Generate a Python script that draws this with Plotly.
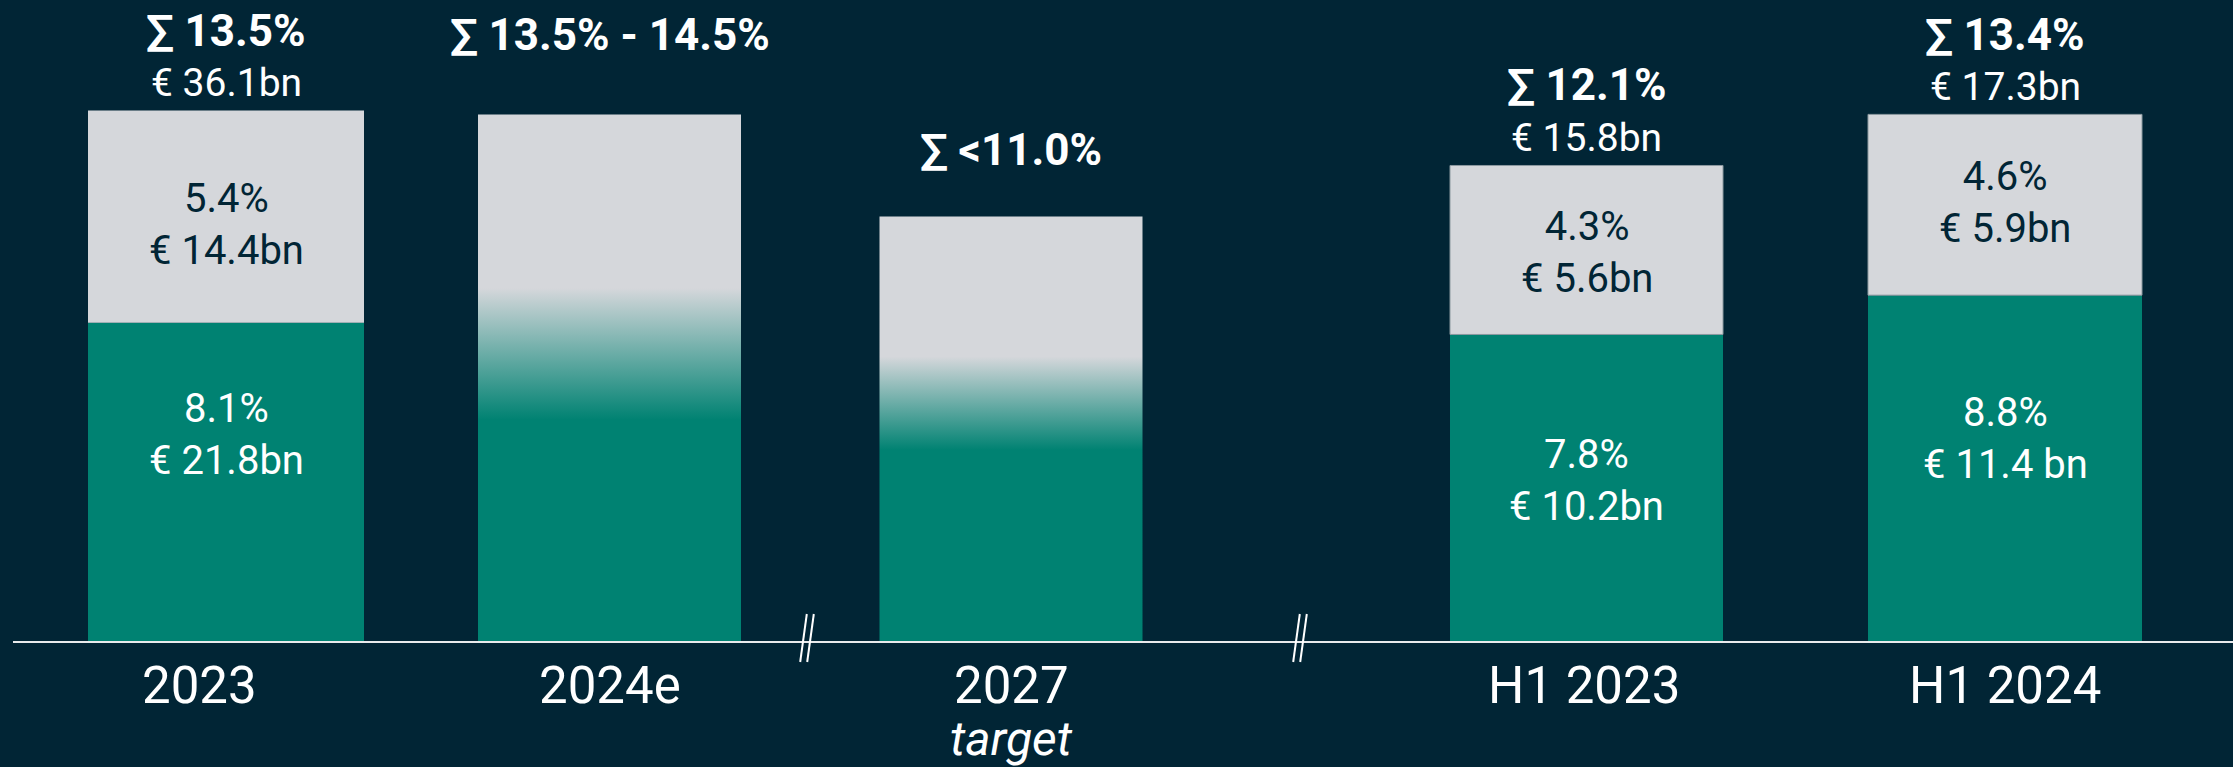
import plotly.graph_objects as go

# ---------------- data ----------------
categories = ["2023", "2024e", "2027", "H1 2023", "H1 2024"]
sublabels = ["", "", "target", "", ""]
core_pct = [8.1, None, None, 7.8, 8.8]
core_eur = ["€ 21.8bn", None, None, "€ 10.2bn", "€ 11.4 bn"]
other_pct = [5.4, None, None, 4.3, 4.6]
other_eur = ["€ 14.4bn", None, None, "€ 5.6bn", "€ 5.9bn"]
estimate_height = [None, 13.4, 10.8, None, None]
total_label = ["13.5%", "13.5% - 14.5%", "<11.0%", "12.1%", "13.4%"]
total_eur = ["€ 36.1bn", None, None, "€ 15.8bn", "€ 17.3bn"]

# ---------------- layout / style ----------------
W, H = 2233, 767
BG = "#012535"
GREEN = "#008272"
GREY = "#D5D7DB"
DARK = "#012535"
WHITE = "#FFFFFF"
FONT = "Roboto"

x_pos = [226, 609.5, 1011, 1586.5, 2005]
bar_w = [276, 263, 263, 273, 274]
label_xshift = [-27, 0, 0, -3, 0]
sum_gap = [62, 62, 50, 63, 62]          # px from bar top to sum baseline
grey_shift = [-8, 0, 0, -3, 2]
green_shift = [47, 0, 0, 7, 30]
break_x = [807, 1300]
grad_stops = [(0.42, 0.67), (0.45, 0.67)]

margin_l, margin_b = 13, 126
px_per_unit = 39.3
plot_h = H - margin_b
y_max = plot_h / px_per_unit

fig = go.Figure()

# actual stacked bars
idx = [i for i in range(len(categories)) if core_pct[i] is not None]
fig.add_trace(go.Bar(
    x=[x_pos[i] for i in idx], y=[core_pct[i] for i in idx],
    width=[bar_w[i] for i in idx],
    marker=dict(color=GREEN, line=dict(width=0)),
    name="core", showlegend=False, hoverinfo="skip"))
fig.add_trace(go.Bar(
    x=[x_pos[i] for i in idx], y=[other_pct[i] for i in idx],
    base=[core_pct[i] for i in idx],
    width=[bar_w[i] for i in idx],
    marker=dict(color=GREY, line=dict(width=[0, 1, 1], color="#8C9AA0")),
    name="other", showlegend=False, hoverinfo="skip"))

# estimate bars with vertical gradient
k = 0
for i in range(len(categories)):
    h = estimate_height[i]
    if h is None:
        continue
    a, b = grad_stops[k]
    k += 1
    x0, x1 = x_pos[i] - bar_w[i] / 2, x_pos[i] + bar_w[i] / 2
    fig.add_trace(go.Scatter(
        x=[x0, x1, x1, x0, x0], y=[0, 0, h, h, 0],
        mode="lines", line=dict(width=0), fill="toself",
        fillgradient=dict(type="vertical", start=0, stop=h,
                          colorscale=[[0, GREEN], [a, GREEN], [b, GREY], [1, GREY]]),
        showlegend=False, hoverinfo="skip"))

ann = []
for i in range(len(categories)):
    if core_pct[i] is not None:
        top = core_pct[i] + other_pct[i]
    else:
        top = estimate_height[i]
    # sum label
    ann.append(dict(x=x_pos[i], y=top, xref="x", yref="y", yanchor="bottom",
                    text="<b>∑ " + total_label[i] + "</b>", showarrow=False,
                    yshift=sum_gap[i] - 11,
                    font=dict(family=FONT, size=44, color=WHITE)))
    if total_eur[i]:
        ann.append(dict(x=x_pos[i], y=top, xref="x", yref="y", yanchor="bottom",
                        text=total_eur[i], showarrow=False, yshift=2,
                        font=dict(family=FONT, size=39, color=WHITE)))
    if core_pct[i] is not None:
        ann.append(dict(x=x_pos[i], y=core_pct[i] + other_pct[i] / 2, xref="x", yref="y",
                        yanchor="middle", showarrow=False, yshift=grey_shift[i],
                        text=f"{other_pct[i]}%<br>{other_eur[i]}",
                        font=dict(family=FONT, size=40, color=DARK)))
        ann.append(dict(x=x_pos[i], y=core_pct[i] / 2, xref="x", yref="y",
                        yanchor="middle", showarrow=False, yshift=green_shift[i],
                        text=f"{core_pct[i]}%<br>{core_eur[i]}",
                        font=dict(family=FONT, size=40, color=WHITE)))
    # category labels
    ann.append(dict(x=x_pos[i], y=0, xref="x", yref="paper", yanchor="top",
                    text=categories[i], showarrow=False, yshift=-13,
                    xshift=label_xshift[i],
                    font=dict(family=FONT, size=51, color=WHITE)))
    if sublabels[i]:
        ann.append(dict(x=x_pos[i], y=0, xref="x", yref="paper", yanchor="top",
                        text="<i>" + sublabels[i] + "</i>", showarrow=False, yshift=-67,
                        font=dict(family=FONT, size=48, color=WHITE)))

shapes = []
for bx in break_x:
    for dx in (-3.5, 3.5):
        shapes.append(dict(type="line", xref="x", yref="paper",
                           x0=bx + dx - 3.3, x1=bx + dx + 3.3,
                           y0=(plot_h - 662) / plot_h, y1=(plot_h - 614) / plot_h,
                           line=dict(color=WHITE, width=2)))

fig.update_layout(
    width=W, height=H,
    margin=dict(l=margin_l, r=0, t=0, b=margin_b, pad=0),
    paper_bgcolor=BG, plot_bgcolor=BG,
    barmode="overlay", showlegend=False,
    xaxis=dict(range=[margin_l, W], showgrid=False, zeroline=False,
               showticklabels=False, ticks="", showline=True,
               linecolor="#E8EAEC", linewidth=2, fixedrange=True),
    yaxis=dict(range=[0, y_max], visible=False, fixedrange=True),
    annotations=ann, shapes=shapes,
)

fig.write_html(
    "out.html",
    config={"displayModeBar": False},
    post_script="document.body.style.margin='0';document.body.style.background='%s';" % BG,
)
